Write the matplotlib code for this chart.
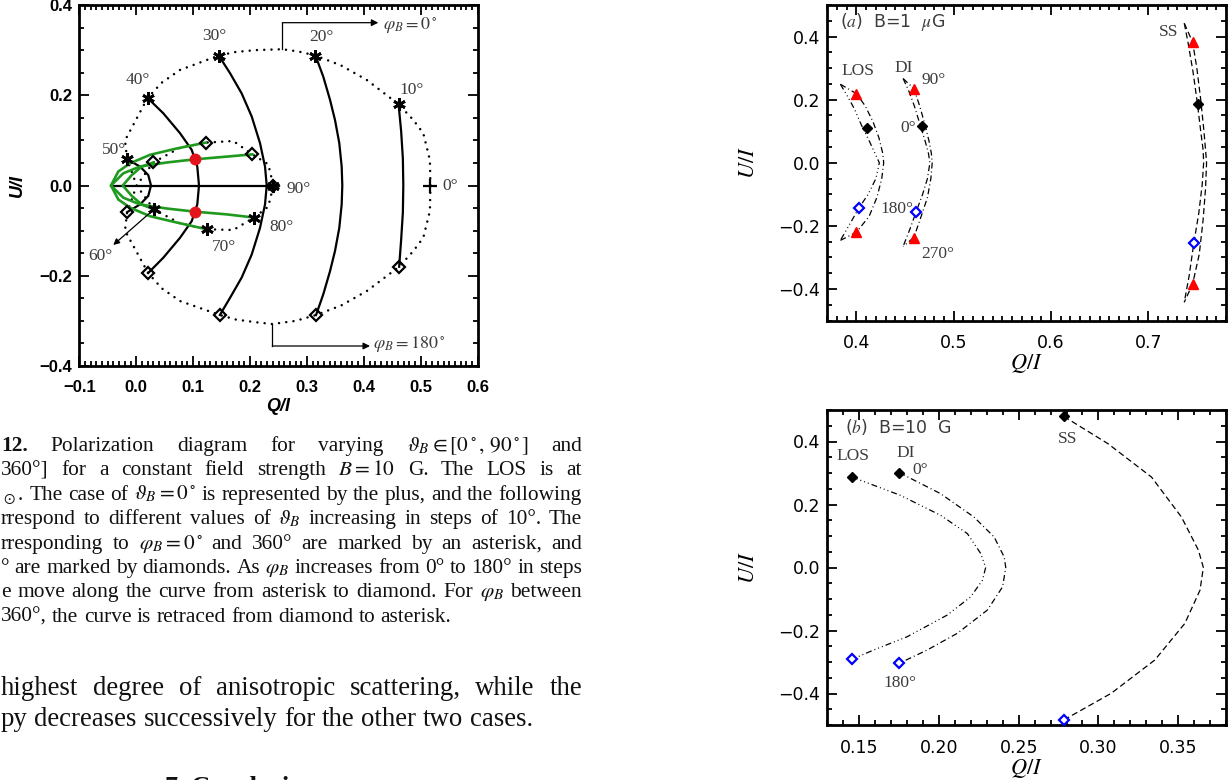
import numpy as np
import matplotlib
matplotlib.use("Agg")
import matplotlib.pyplot as plt
from matplotlib.ticker import MultipleLocator

plt.rcParams["mathtext.fontset"] = "stix"
plt.rcParams["font.family"] = ["Liberation Serif", "DejaVu Serif"]

W, H = 1232, 780

# ---------------- left figure: polarization diagram, B = 10 G ----------------
# asterisks (phi_B = 0) and diamonds (phi_B = 180) for theta_B = 10..90 deg
ast_q = [0.461, 0.315, 0.145, 0.020, -0.016, 0.031, 0.124, 0.207, 0.241]
ast_u = [0.180, 0.288, 0.288, 0.194, 0.058, -0.053, -0.097, -0.071, 0.0]
dia_q = [0.462, 0.316, 0.147, 0.021, -0.016, 0.030, 0.122, 0.204, 0.241]
dia_u = [-0.180, -0.287, -0.287, -0.194, -0.059, 0.051, 0.095, 0.069, 0.0]
plus_q = [0.517]
plus_u = [0.0]
red_q = [0.1033, 0.1033]
red_u = [0.058, -0.058]

# black curves (phi_B from 0 to 180)
arc10_q = [0.461, 0.4655, 0.4685, 0.4693, 0.4685, 0.4655, 0.462]
arc10_u = [0.180, 0.12, 0.06, 0.0, -0.06, -0.12, -0.180]
arc20_q = [0.315, 0.3287, 0.3405, 0.3493, 0.3568, 0.361, 0.3621, 0.361, 0.3568, 0.3493, 0.3405, 0.3287, 0.316]
arc20_u = [0.288, 0.241, 0.19, 0.145, 0.094, 0.042, 0.0, -0.042, -0.094, -0.145, -0.19, -0.241, -0.287]
arc30_q = [0.145, 0.1648, 0.1853, 0.2029, 0.2175, 0.2263, 0.2293, 0.2263, 0.2175, 0.2029, 0.1853, 0.1648, 0.147]
arc30_u = [0.288, 0.249, 0.204, 0.153, 0.094, 0.042, 0.0, -0.042, -0.094, -0.153, -0.204, -0.249, -0.287]
arc40_q = [0.020, 0.0476, 0.0769, 0.0975, 0.1073, 0.1103, 0.1073, 0.0975, 0.0769, 0.0476, 0.021]
arc40_u = [0.194, 0.160, 0.116, 0.079, 0.042, 0.0, -0.042, -0.079, -0.116, -0.160, -0.194]
arc50_q = [-0.016, 0.0067, 0.0212, 0.026, 0.0212, 0.0067, -0.016]
arc50_u = [0.058, 0.042, 0.023, 0.0, -0.023, -0.042, -0.059]
arc90_q = [-0.0443, 0.241]
arc90_u = [0.0, 0.0]

# green curves
g60_q = [0.031, 0.0096, -0.0079, -0.0237, -0.0079, 0.0096, 0.030]
g60_u = [-0.053, -0.042, -0.023, 0.0, 0.023, 0.042, 0.051]
g70_q = [0.124, 0.0711, 0.0242, -0.0109, -0.0315, -0.0443, -0.0315, -0.0109, 0.0242, 0.0711, 0.122]
g70_u = [-0.097, -0.082, -0.068, -0.049, -0.031, 0.0, 0.031, 0.049, 0.068, 0.082, 0.095]
g80_q = [0.207, 0.159, 0.1033, 0.0536, 0.0067, -0.0227, -0.0443, -0.0227, 0.0067, 0.0536, 0.1033, 0.159, 0.204]
g80_u = [-0.071, -0.064, -0.058, -0.051, -0.042, -0.027, 0.0, 0.027, 0.042, 0.051, 0.058, 0.064, 0.069]

# dotted loci of the asterisks and diamonds
locA_q = [0.517, 0.516, 0.5044, 0.4869, 0.461, 0.405, 0.36, 0.315, 0.285, 0.2567, 0.21, 0.175, 0.145,
          0.0769, 0.045, 0.020, -0.0197, -0.016, 0.0008, 0.031, 0.0769, 0.124, 0.1706, 0.207, 0.232, 0.241]
locA_u = [0.0, 0.0565, 0.1157, 0.1452, 0.180, 0.234, 0.266, 0.288, 0.297, 0.302, 0.300, 0.296, 0.288,
          0.256, 0.228, 0.194, 0.10, 0.058, 0.0, -0.053, -0.0838, -0.097, -0.0986, -0.071, -0.047, 0.0]
locD_q = [0.517, 0.516, 0.5044, 0.4869, 0.462, 0.405, 0.36, 0.316, 0.28, 0.239, 0.21, 0.175, 0.147,
          0.0769, 0.045, 0.021, -0.0197, -0.016, 0.0008, 0.030, 0.0769, 0.122, 0.1706, 0.204, 0.232, 0.241]
locD_u = [0.0, -0.0565, -0.1157, -0.1452, -0.180, -0.234, -0.266, -0.287, -0.300, -0.307, -0.303, -0.297, -0.287,
          -0.256, -0.228, -0.194, -0.10, -0.059, 0.0, 0.051, 0.0838, 0.095, 0.0986, 0.069, 0.047, 0.0]

xt_left = [-0.1, 0.0, 0.1, 0.2, 0.3, 0.4, 0.5, 0.6]
xt_left_lab = ["\u22120.1", "0.0", "0.1", "0.2", "0.3", "0.4", "0.5", "0.6"]
yt_left = [-0.4, -0.2, 0.0, 0.2, 0.4]
yt_left_lab = ["\u22120.4", "\u22120.2", "0.0", "0.2", "0.4"]

# ---------------- right figure (a): B = 1 muG ----------------
losA1_q = [0.3835, 0.390, 0.398, 0.405, 0.413, 0.419, 0.4235, 0.420, 0.412, 0.4024, 0.393, 0.3835]
losA1_u = [0.2487, 0.215, 0.17, 0.12, 0.07, 0.03, 0.0, -0.05, -0.10, -0.144, -0.195, -0.246]
losA2_q = [0.3835, 0.400, 0.409, 0.417, 0.423, 0.427, 0.428, 0.426, 0.421, 0.413, 0.400, 0.3835]
losA2_u = [0.2487, 0.219, 0.18, 0.13, 0.08, 0.03, 0.0, -0.05, -0.11, -0.17, -0.220, -0.246]
diA1_q = [0.448, 0.4535, 0.4595, 0.4655, 0.4705, 0.474, 0.4755, 0.473, 0.468, 0.4614, 0.455, 0.448]
diA1_u = [0.2667, 0.23, 0.18, 0.12, 0.07, 0.03, 0.0, -0.05, -0.10, -0.155, -0.21, -0.265]
diA2_q = [0.448, 0.459, 0.465, 0.4705, 0.4745, 0.477, 0.4779, 0.4765, 0.473, 0.4665, 0.459, 0.448]
diA2_u = [0.2667, 0.235, 0.18, 0.12, 0.07, 0.03, 0.0, -0.05, -0.11, -0.17, -0.237, -0.265]
ssA1_q = [0.7371, 0.741, 0.746, 0.7505, 0.754, 0.7565, 0.757, 0.7555, 0.752, 0.747, 0.742, 0.7371]
ssA1_u = [0.442, 0.38, 0.29, 0.19, 0.10, 0.04, 0.0, -0.07, -0.16, -0.253, -0.36, -0.442]
ssA2_q = [0.7371, 0.7457, 0.750, 0.754, 0.757, 0.759, 0.760, 0.759, 0.7565, 0.7525, 0.7457, 0.7371]
ssA2_u = [0.442, 0.382, 0.30, 0.20, 0.11, 0.04, 0.0, -0.08, -0.18, -0.29, -0.384, -0.442]
# markers: phi = 0 (black), 90 / 270 (red), 180 (blue)
a_black_q = [0.4113, 0.4669, 0.7515]
a_black_u = [0.1087, 0.116, 0.1855]
a_red_q = [0.400, 0.400, 0.459, 0.459, 0.7457, 0.7457]
a_red_u = [0.219, -0.220, 0.235, -0.237, 0.382, -0.384]
a_blue_q = [0.4024, 0.4614, 0.747]
a_blue_u = [-0.144, -0.155, -0.253]

# ---------------- right figure (b): B = 10 G ----------------
losB_q = [0.1454, 0.1758, 0.2010, 0.2178, 0.2262, 0.2293, 0.2273, 0.2199, 0.2052, 0.180, 0.159, 0.1454]
losB_u = [0.2872, 0.2292, 0.1658, 0.1078, 0.0444, 0.0, -0.0403, -0.0932, -0.151, -0.22, -0.262, -0.2916]
diB_q = [0.1752, 0.2010, 0.222, 0.2346, 0.2409, 0.2419, 0.2399, 0.2304, 0.2115, 0.1926, 0.1752]
diB_u = [0.301, 0.2345, 0.160, 0.097, 0.0336, 0.0, -0.0615, -0.135, -0.209, -0.262, -0.304]
ssB_q = [0.2783, 0.306, 0.3333, 0.3521, 0.3627, 0.3658, 0.3637, 0.3542, 0.3353, 0.308, 0.2783]
ssB_u = [0.4796, 0.393, 0.287, 0.160, 0.055, 0.0, -0.072, -0.1775, -0.294, -0.3994, -0.484]

xt_a = [0.4, 0.5, 0.6, 0.7]
xt_a_lab = ["0.4", "0.5", "0.6", "0.7"]
xt_b = [0.15, 0.20, 0.25, 0.30, 0.35]
xt_b_lab = ["0.15", "0.20", "0.25", "0.30", "0.35"]
yt_r = [-0.4, -0.2, 0.0, 0.2, 0.4]
yt_r_lab = ["\u22120.4", "\u22120.2", "0.0", "0.2", "0.4"]

# ---------------- text ----------------
cap_lines = [
    r"12. Polarization diagram for varying $\vartheta_B\in[0^\circ,\,90^\circ]$ and",
    r"360°] for a constant field strength $B=10$ G. The LOS is at",
    r"$_\odot$. The case of $\vartheta_B=0^\circ$ is represented by the plus, and the following",
    r"rrespond to different values of $\vartheta_B$ increasing in steps of 10°. The",
    r"rresponding to $\varphi_B=0^\circ$ and 360° are marked by an asterisk, and",
    r"° are marked by diamonds. As $\varphi_B$ increases from 0° to 180° in steps",
    r"e move along the curve from asterisk to diamond. For $\varphi_B$ between",
    r"360°, the curve is retraced from diamond to asterisk.",
]
body_lines = [
    "highest degree of anisotropic scattering, while the",
    "py decreases successively for the other two cases.",
]

GRAY = "#3c3c3c"
GREEN = "#1f9a1f"
fig = plt.figure(figsize=(W / 100, H / 100), dpi=100)


def px_axes(x0, y0, x1, y1):
    return fig.add_axes([x0 / W, 1 - y1 / H, (x1 - x0) / W, (y1 - y0) / H])


# ======== left panel ========
ax = px_axes(79.3, 5, 477.7, 366)
ax.set_xlim(-0.1, 0.6)
ax.set_ylim(-0.4, 0.4)
dot = (0, (0.01, 2.9))
ax.plot(locA_q, locA_u, color="k", lw=1.8, ls=dot, dash_capstyle="round")
ax.plot(locD_q, locD_u, color="k", lw=1.8, ls=dot, dash_capstyle="round")
for qq, uu in [(arc10_q, arc10_u), (arc20_q, arc20_u), (arc30_q, arc30_u),
               (arc40_q, arc40_u), (arc50_q, arc50_u), (arc90_q, arc90_u)]:
    ax.plot(qq, uu, color="k", lw=1.6, solid_joinstyle="round")
for qq, uu in [(g60_q, g60_u), (g70_q, g70_u), (g80_q, g80_u)]:
    ax.plot(qq, uu, color=GREEN, lw=1.9, solid_joinstyle="round")
ax.plot(ast_q, ast_u, ls="none", marker=(6, 2, 0), ms=9, mew=2.0, color="k", zorder=5)
ax.plot(dia_q, dia_u, ls="none", marker="D", ms=6, mew=1.6, mfc="none", mec="k", zorder=5)
ax.plot(plus_q, plus_u, ls="none", marker="+", ms=10, mew=1.6, color="k", zorder=5)
ax.plot(red_q, red_u, ls="none", marker="o", ms=7.5, color="#e3141b", zorder=6)

for txt, qx, uy in [("30°", 0.137, 0.332), ("20°", 0.325, 0.330), ("10°", 0.484, 0.212),
                    ("40°", 0.002, 0.234), ("50°", -0.0385, 0.079), ("90°", 0.285, -0.008),
                    ("0°", 0.551, 0.0), ("80°", 0.2556, -0.0913), ("70°", 0.154, -0.1356),
                    ("60°", -0.0624, -0.1562)]:
    ax.text(qx, uy, txt, color=GRAY, fontsize=12.5, ha="center", va="center")
ax.annotate("", xy=(-0.0403, -0.1318), xytext=(0.031, -0.053),
            arrowprops=dict(arrowstyle="-|>", color="k", lw=0.9, mutation_scale=9,
                            shrinkA=3, shrinkB=0))
ax.plot([0.2567, 0.2567], [0.302, 0.3608], color="k", lw=0.9)
ax.annotate("", xy=(0.4254, 0.3608), xytext=(0.2567, 0.3608),
            arrowprops=dict(arrowstyle="-|>", color="k", lw=0.9, mutation_scale=10,
                            shrinkA=0, shrinkB=0))
ax.text(0.434, 0.356, r"$\varphi_B = 0^\circ$", color=GRAY, fontsize=13, ha="left", va="center")
ax.plot([0.239, 0.239], [-0.307, -0.3557], color="k", lw=0.9)
ax.annotate("", xy=(0.4108, -0.3557), xytext=(0.239, -0.3557),
            arrowprops=dict(arrowstyle="-|>", color="k", lw=0.9, mutation_scale=10,
                            shrinkA=0, shrinkB=0))
ax.text(0.416, -0.351, r"$\varphi_B = 180^\circ$", color=GRAY, fontsize=13, ha="left", va="center")

ax.set_xticks(xt_left, xt_left_lab, fontsize=12, fontweight="bold", family="Liberation Sans")
ax.set_yticks(yt_left, yt_left_lab, fontsize=12, fontweight="bold", family="Liberation Sans")
ax.xaxis.set_minor_locator(MultipleLocator(0.01))
ax.yaxis.set_minor_locator(MultipleLocator(0.05))
ax.tick_params(which="both", direction="in", top=True, right=True, width=1.3)
ax.tick_params(which="major", length=7)
ax.tick_params(which="minor", length=3.5)
ax.tick_params(axis="x", pad=10)
ax.tick_params(axis="y", pad=5)
for s in ax.spines.values():
    s.set_linewidth(2.0)
ax.text(0.5, -0.113, "Q/I", transform=ax.transAxes, ha="center", va="center",
        fontsize=13, fontweight="bold", style="italic", family="Liberation Sans")
ax.text(-0.156, 0.5, "U/I", transform=ax.transAxes, ha="center", va="center", rotation=90,
        fontsize=13, fontweight="bold", style="italic", family="Liberation Sans")

# ======== right panels ========
LOS_DASH = (0, (4.8, 2.4, 0.8, 2.4, 0.8, 2.4, 0.8, 2.4))
DI_DASH = (0, (4.8, 2.4, 0.8, 2.4))
SS_DASH = (0, (4.8, 2.7))


def style_right(a, xt, xlab, minor_x):
    a.set_ylim(-0.5, 0.5)
    a.set_xticks(xt, xlab, fontsize=12.5, family="DejaVu Sans")
    a.set_yticks(yt_r, yt_r_lab, fontsize=12.5, family="DejaVu Sans")
    a.xaxis.set_minor_locator(MultipleLocator(minor_x))
    a.yaxis.set_minor_locator(MultipleLocator(0.05))
    a.tick_params(which="both", direction="in", top=True, right=True, width=1.3)
    a.tick_params(which="major", length=7)
    a.tick_params(which="minor", length=3.5)
    a.tick_params(axis="x", pad=10)
    a.tick_params(axis="y", pad=5)
    for s in a.spines.values():
        s.set_linewidth(2.0)
    a.text(0.5, -0.137, r"$Q/I$", transform=a.transAxes, ha="center", va="center", fontsize=16)
    a.text(-0.195, 0.5, r"$U/I$", transform=a.transAxes, ha="center", va="center",
           rotation=90, fontsize=16)


axa = px_axes(827.3, 5, 1226, 320.5)
axa.set_xlim(0.37, 0.78)
axa.plot(losA1_q, losA1_u, color="k", lw=0.9, ls=LOS_DASH)
axa.plot(losA2_q, losA2_u, color="k", lw=0.9, ls=DI_DASH)
axa.plot(diA1_q, diA1_u, color="k", lw=0.9, ls=DI_DASH)
axa.plot(diA2_q, diA2_u, color="k", lw=0.9, ls=DI_DASH)
axa.plot(ssA1_q, ssA1_u, color="k", lw=0.9, ls=SS_DASH)
axa.plot(ssA2_q, ssA2_u, color="k", lw=0.9, ls=SS_DASH)
axa.plot(a_red_q, a_red_u, ls="none", marker="^", ms=7.5, color="#ff0000", zorder=5)
axa.plot(a_black_q, a_black_u, ls="none", marker="D", ms=5, color="k", zorder=5)
axa.plot(a_blue_q, a_blue_u, ls="none", marker="D", ms=5, mfc="white", mec="#0000ff", mew=1.6, zorder=5)
for txt, qx, uy in [("LOS", 0.4017, 0.2897), ("DI", 0.4487, 0.300), ("90°", 0.4789, 0.2613),
                    ("0°", 0.4532, 0.1087), ("180°", 0.4412, -0.1472), ("270°", 0.4833, -0.2894),
                    ("SS", 0.7207, 0.4139)]:
    axa.text(qx, uy, txt, color=GRAY, fontsize=12.5, ha="center", va="center")
axa.text(0.3829, 0.4455, r"($a$)  B=1  $\mu$G", color=GRAY, fontsize=12.5,
         family="DejaVu Sans", ha="left", va="center")
style_right(axa, xt_a, xt_a_lab, 0.01)

axb = px_axes(827.3, 410, 1226, 725)
axb.set_xlim(0.13, 0.38)
axb.plot(losB_q, losB_u, color="k", lw=0.9, ls=LOS_DASH)
axb.plot(diB_q, diB_u, color="k", lw=0.9, ls=DI_DASH)
axb.plot(ssB_q, ssB_u, color="k", lw=0.9, ls=SS_DASH)
axb.plot([losB_q[0], diB_q[0], ssB_q[0]], [losB_u[0], diB_u[0], ssB_u[0]],
         ls="none", marker="D", ms=5, color="k", zorder=5)
axb.plot([losB_q[-1], diB_q[-1], ssB_q[-1]], [losB_u[-1], diB_u[-1], ssB_u[-1]],
         ls="none", marker="D", ms=5, mfc="white", mec="#0000ff", mew=1.6, zorder=5)
for txt, qx, uy in [("LOS", 0.146, 0.3528), ("DI", 0.1794, 0.3645), ("0°", 0.1884, 0.3084),
                    ("SS", 0.2804, 0.4067), ("180°", 0.1754, -0.3677)]:
    axb.text(qx, uy, txt, color=GRAY, fontsize=12.5, ha="center", va="center")
axb.text(0.1412, 0.4456, r"($b$)  B=10  G", color=GRAY, fontsize=12.5,
         family="DejaVu Sans", ha="left", va="center")
style_right(axb, xt_b, xt_b_lab, 0.01)

# ======== caption and running text (justified) ========
renderer = fig.canvas.get_renderer()


def put_line(line, base_y, size, right, justify, bold_first=False):
    toks = line.split(" ")
    objs = []
    for i, tok in enumerate(toks):
        wgt = "bold" if (bold_first and i == 0) else "normal"
        objs.append(fig.text(0, 1 - base_y / H, tok, fontsize=size, fontweight=wgt,
                             color="#111111", ha="left", va="baseline"))
    widths = [o.get_window_extent(renderer).width for o in objs]
    if justify and len(objs) > 1:
        gap = (right - 1 - sum(widths)) / (len(objs) - 1)
    else:
        gap = 0.25 * size * 100 / 72
    x = 1.0
    for o, w in zip(objs, widths):
        o.set_x(x / W)
        x += w + gap


for i, line in enumerate(cap_lines):
    put_line(line, 451 + i * 24.4, 15.4, 582, i < len(cap_lines) - 1, bold_first=(i == 0))
for i, line in enumerate(body_lines):
    put_line(line, 695 + i * 30.5, 19.3, 582, i == 0)
fig.text(165 / W, 1 - 776 / H, "7. Conclusions", fontsize=19, fontweight="bold",
         color="#111111", ha="left", va="top")

fig.savefig("out.png", dpi=100)
